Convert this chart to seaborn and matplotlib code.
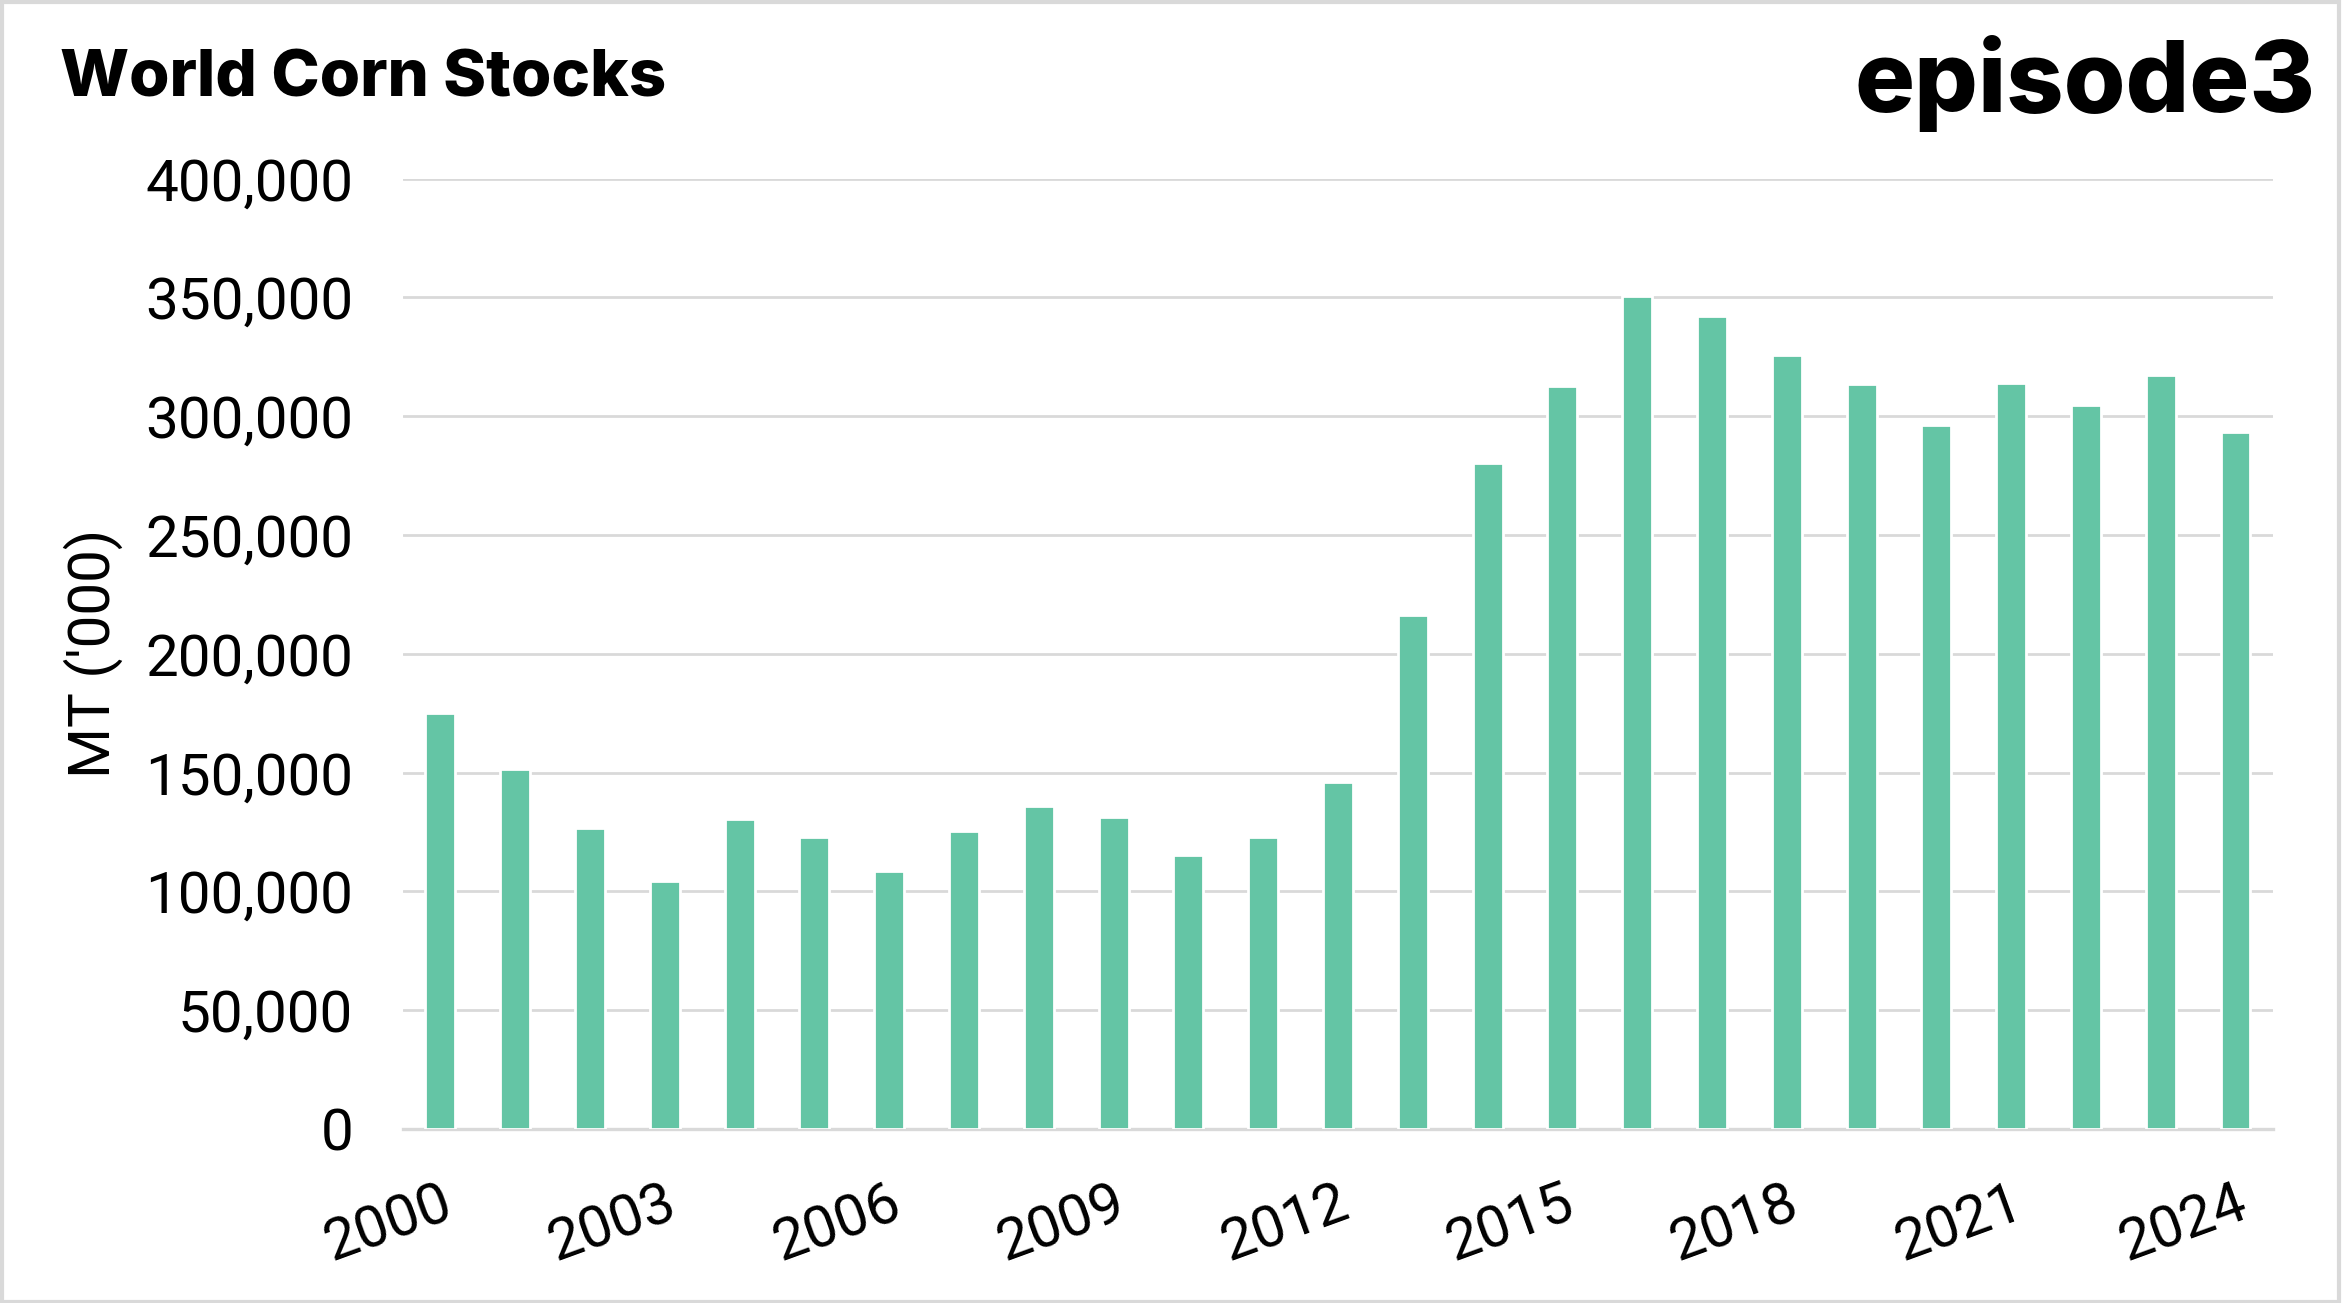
import pandas as pd
import matplotlib.pyplot as plt
import seaborn as sns
from matplotlib.patches import Rectangle
from matplotlib.ticker import FuncFormatter

# data (MT '000)
years = list(range(2000, 2025))
stocks = [175000, 151500, 126500, 104300, 130700, 123100, 108600, 125400,
          135900, 131300, 115300, 123100, 146000, 216500, 280400, 312700,
          350500, 342200, 325800, 313600, 296400, 314000, 304800, 317400,
          293400]
shown_years = [2000, 2003, 2006, 2009, 2012, 2015, 2018, 2021, 2024]

df = pd.DataFrame({'Year': [str(y) for y in years], 'Stocks': stocks})

sns.set_style('white')
plt.rcParams['font.family'] = ['Roboto', 'DejaVu Sans']
plt.rcParams['text.color'] = 'black'
plt.rcParams['axes.labelcolor'] = 'black'
plt.rcParams['xtick.color'] = 'black'
plt.rcParams['ytick.color'] = 'black'

fig = plt.figure(figsize=(11.71, 6.515), dpi=200)
ax = fig.add_axes([0.1721, 0.1335, 0.7984, 0.7294])

sns.barplot(data=df, x='Year', y='Stocks', color='#64C5A5', width=0.4,
            saturation=1, ax=ax, zorder=3)

ax.set_ylim(0, 400000)
ax.set_yticks(range(0, 400001, 50000))
ax.yaxis.set_major_formatter(FuncFormatter(lambda v, p: f'{int(v):,}'))
ax.set_xlim(-0.5, len(years) - 0.5)
ax.set_xticks([years.index(y) for y in shown_years])
ax.set_xticklabels([str(y) for y in shown_years], rotation=20, ha='right',
                   rotation_mode='anchor')

ax.grid(axis='y', color='#D9D9D9', linewidth=1.0, zorder=0)
ax.grid(axis='x', visible=False)
for s in ['top', 'right', 'left']:
    ax.spines[s].set_visible(False)
ax.spines['bottom'].set_color('#D9D9D9')
ax.spines['bottom'].set_linewidth(1.2)

ax.tick_params(axis='y', length=0, pad=18, labelsize=21)
ax.tick_params(axis='x', length=0, pad=17, labelsize=21)

ax.set_xlabel('')
ax.set_ylabel("MT ('000)", fontsize=21, labelpad=8)

fig.text(0.0256, 0.9263, 'World Corn Stocks', fontsize=23.5, fontweight='heavy',
         family=['Inter', 'DejaVu Sans'], va='baseline', ha='left')
fig.text(0.9885, 0.914, 'episode3', fontsize=36, fontweight='heavy',
         family=['Inter', 'DejaVu Sans'], va='baseline', ha='right')

# light grey frame around the image
fig.patches.append(Rectangle((0.0007, 0.001), 0.9979, 0.9976, transform=fig.transFigure,
                             fill=False, edgecolor='#D9D9D9', linewidth=1.5))

fig.savefig('out.png', dpi=200)
